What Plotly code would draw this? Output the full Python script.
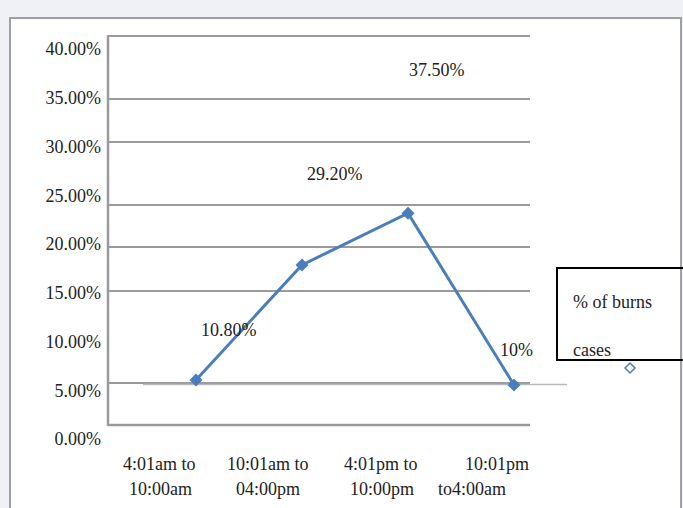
import plotly.graph_objects as go

# ---- data ----
periods_top = ["4:01am to", "10:01am to", "4:01pm to", "10:01pm"]
periods_bottom = ["10:00am", "04:00pm", "10:00pm", "to4:00am"]
burn_pct = [10.8, 29.2, 37.5, 10.0]
value_labels = ["10.80%", "29.20%", "37.50%", "10%"]
y_ticks = [0, 5, 10, 15, 20, 25, 30, 35, 40]
y_tick_text = ["0.00%", "5.00%", "10.00%", "15.00%", "20.00%", "25.00%", "30.00%", "35.00%", "40.00%"]
grid_levels = [41.33, 34.87, 30.46, 24.0, 19.69, 15.18, 5.74]
series_name = "% of burns cases"

# ---- style ----
W, H = 683, 508
L, R, T, B = 108, 116, 30, 60
FONT = "Liberation Serif"
BLUE = "#4a7ebb"
GRID = "#9a9a9e"
TXT = dict(family=FONT, size=18, color="#222")
x_pos = list(range(len(periods_top)))


def px_x(px):
    return (px - L) / (W - L - R)


def px_y(py):
    return (H - B - py) / (H - T - B)


fig = go.Figure()

fig.add_trace(go.Scatter(
    x=x_pos, y=burn_pct, yaxis="y2", mode="lines+markers",
    line=dict(color=BLUE, width=3),
    marker=dict(symbol="diamond", size=10, color=BLUE),
    name=series_name, showlegend=False, hoverinfo="skip",
))

shapes = []
# outer frame of the chart area
shapes.append(dict(type="rect", xref="paper", yref="paper",
                   x0=px_x(10), x1=px_x(681), y0=px_y(530), y1=px_y(18),
                   line=dict(color="#a0a0a4", width=2), fillcolor="white", layer="below"))
# horizontal gridlines
for g in grid_levels:
    shapes.append(dict(type="line", xref="paper", yref="y", x0=0, x1=px_x(530),
                       y0=g, y1=g, line=dict(color=GRID, width=2), layer="below"))
# secondary light baseline
shapes.append(dict(type="line", xref="paper", yref="y", x0=px_x(143), x1=px_x(567),
                   y0=5.6, y1=5.6, line=dict(color="#b8b8bc", width=1.5), layer="below"))
# axis lines
shapes.append(dict(type="line", xref="paper", yref="y", x0=0, x1=px_x(530),
                   y0=1.44, y1=1.44, line=dict(color=GRID, width=2.5), layer="below"))
shapes.append(dict(type="line", xref="paper", yref="y", x0=0, x1=0,
                   y0=1.34, y1=41.4, line=dict(color=GRID, width=2.5), layer="below"))
# legend box
shapes.append(dict(type="rect", xref="paper", yref="paper",
                   x0=px_x(557), x1=px_x(700), y0=px_y(360), y1=px_y(268),
                   line=dict(color="black", width=2), fillcolor="rgba(0,0,0,0)"))
# legend symbol
shapes.append(dict(type="path", xref="paper", yref="paper",
                   xsizemode="pixel", ysizemode="pixel",
                   xanchor=px_x(630), yanchor=px_y(368),
                   path="M 0 5 L 5 0 L 0 -5 L -5 0 Z",
                   line=dict(color=BLUE, width=1.5), fillcolor="white"))

annotations = []
# value labels
label_shift = [(33, 4), (33, -20), (29, 3), (2, -8)]
for i, (txt, v) in enumerate(zip(value_labels, burn_pct)):
    dx, dy = label_shift[i]
    annotations.append(dict(x=i, y=v, xref="x", yref="y", text=txt, showarrow=False,
                            xanchor="center", yanchor="middle",
                            xshift=dx, yshift=dy, font=TXT))
# category labels (two lines each)
top_shift = [-36, -34, -27, -17]
bot_shift = [-35, -34, -26, -42]
for i in x_pos:
    annotations.append(dict(x=i, y=px_y(464), xref="x", yref="paper",
                            text=periods_top[i], showarrow=False, xshift=top_shift[i],
                            xanchor="center", yanchor="middle", font=TXT))
    annotations.append(dict(x=i, y=px_y(489), xref="x", yref="paper",
                            text=periods_bottom[i], showarrow=False, xshift=bot_shift[i],
                            xanchor="center", yanchor="middle", font=TXT))
# legend text
for line_txt, py in [("% of burns", 302), ("cases", 350)]:
    annotations.append(dict(x=px_x(571), y=px_y(py), xref="paper", yref="paper",
                            xanchor="left", yanchor="middle", text=line_txt,
                            showarrow=False, font=TXT))

fig.update_layout(
    width=W, height=H,
    margin=dict(l=L, r=R, t=T, b=B),
    paper_bgcolor="#eff1f6", plot_bgcolor="rgba(0,0,0,0)",
    showlegend=False,
    xaxis=dict(range=[-0.83, 3.5], showgrid=False, zeroline=False, showline=False,
               showticklabels=False, fixedrange=True),
    yaxis=dict(range=[-0.923, 41.95], tickvals=y_ticks, ticktext=y_tick_text,
               showgrid=False, zeroline=False, showline=False, ticks="",
               ticklabelstandoff=6, tickfont=TXT),
    yaxis2=dict(range=[-0.08, 66.8], overlaying="y", side="right", visible=False),
    shapes=shapes,
    annotations=annotations,
)

fig.write_html("out.html")
